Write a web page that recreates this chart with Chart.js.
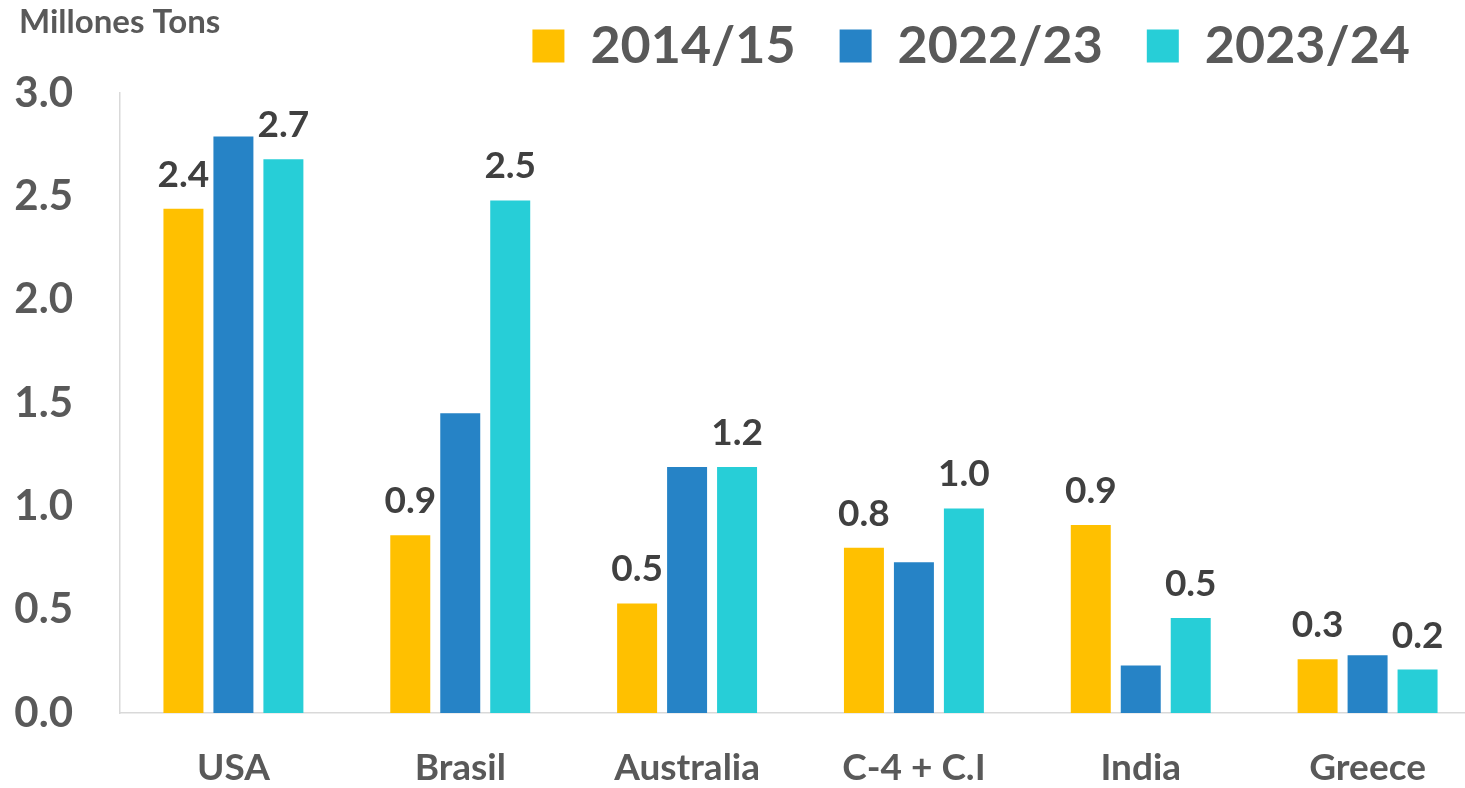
<!DOCTYPE html>
<html>
<head>
<meta charset="utf-8">
<script src="https://cdn.jsdelivr.net/npm/chart.js@4/dist/chart.umd.min.js"></script>
<style>
html, body { margin:0; padding:0; overflow:hidden; background:#ffffff; }
#wrap { position:relative; width:1482px; height:788px; }
</style>
</head>
<body>
<div id="wrap"><canvas id="c" width="1482" height="788"></canvas></div>
<script>
const categories = ['USA', 'Brasil', 'Australia', 'C-4 + C.I', 'India', 'Greece'];
const seriesNames = ['2014/15', '2022/23', '2023/24'];
const values2014 = [2.44, 0.86, 0.53, 0.80, 0.91, 0.26];
const values2022 = [2.79, 1.45, 1.19, 0.73, 0.23, 0.28];
const values2023 = [2.68, 2.48, 1.19, 0.99, 0.46, 0.21];
const yTicks = [0, 0.5, 1.0, 1.5, 2.0, 2.5, 3.0];
const unitLabel = 'Millones Tons';
const labeledSeries = [0, 2];

const FONT = 'Lato, "Open Sans", "DejaVu Sans", sans-serif';
const GREY = '#595959';

const titlePlugin = {
  id: 'unitTitle',
  afterDraw(chart) {
    const ctx = chart.ctx;
    ctx.save();
    ctx.font = 'bold 33px ' + FONT;
    ctx.fillStyle = GREY;
    ctx.textAlign = 'left';
    ctx.textBaseline = 'alphabetic';
    ctx.fillText(unitLabel, 19, 33);
    ctx.restore();
  }
};

const valueLabels = {
  id: 'valueLabels',
  afterDatasetsDraw(chart) {
    const ctx = chart.ctx;
    ctx.save();
    ctx.font = 'bold 37px ' + FONT;
    ctx.fillStyle = '#404040';
    ctx.textAlign = 'center';
    ctx.textBaseline = 'alphabetic';
    labeledSeries.forEach(di => {
      const meta = chart.getDatasetMeta(di);
      const data = chart.data.datasets[di].data;
      meta.data.forEach((bar, i) => {
        ctx.fillText(data[i].toFixed(1), bar.x, bar.y - 22);
      });
    });
    ctx.restore();
  }
};

const legendShift = {
  id: 'legendShift',
  afterLayout(chart) {
    const lg = chart.legend;
    if (lg) {
      const pad = lg.options.labels.padding;
      const w = lg.right - lg.left;
      const h = lg.bottom - lg.top;
      lg.right = 1410 + pad;
      lg.left = lg.right - w;
      lg.top = 20 - pad;
      lg.bottom = lg.top + h;
    }
  }
};

new Chart(document.getElementById('c'), {
  type: 'bar',
  data: {
    labels: categories,
    datasets: [
      { label: seriesNames[0], data: values2014, backgroundColor: '#FFC000', borderWidth: 0 },
      { label: seriesNames[1], data: values2022, backgroundColor: '#2683C6', borderWidth: 0 },
      { label: seriesNames[2], data: values2023, backgroundColor: '#27CED7', borderWidth: 0 }
    ]
  },
  options: {
    responsive: false,
    animation: false,
    devicePixelRatio: 1,
    layout: { padding: { top: -13, left: 0, right: 1, bottom: 0 } },
    datasets: { bar: { categoryPercentage: 0.661, barPercentage: 0.8 } },
    plugins: {
      legend: {
        position: 'top',
        align: 'end',
        labels: {
          boxWidth: 32,
          boxHeight: 33,
          padding: 44,
          color: GREY,
          font: { family: FONT, size: 52, weight: 'bold' }
        }
      },
      tooltip: { enabled: false },
      title: { display: false }
    },
    scales: {
      x: {
        grid: { display: false, drawTicks: false },
        border: { display: true, color: '#D9D9D9', width: 1.5 },
        ticks: { color: GREY, font: { family: FONT, size: 37, weight: 'bold' }, padding: 33 },
        afterFit(scale) { scale.height = 75; }
      },
      y: {
        min: 0,
        max: 3,
        afterBuildTicks(scale) { scale.ticks = yTicks.map(v => ({ value: v })); },
        grid: { display: false, drawTicks: false },
        border: { display: true, color: '#D9D9D9', width: 1.5 },
        ticks: {
          color: GREY,
          font: { family: FONT, size: 42, weight: 'bold' },
          padding: 47,
          callback: v => Number(v).toFixed(1)
        },
        afterFit(scale) { scale.width = 120; }
      }
    }
  },
  plugins: [titlePlugin, valueLabels, legendShift]
});
</script>
</body>
</html>
